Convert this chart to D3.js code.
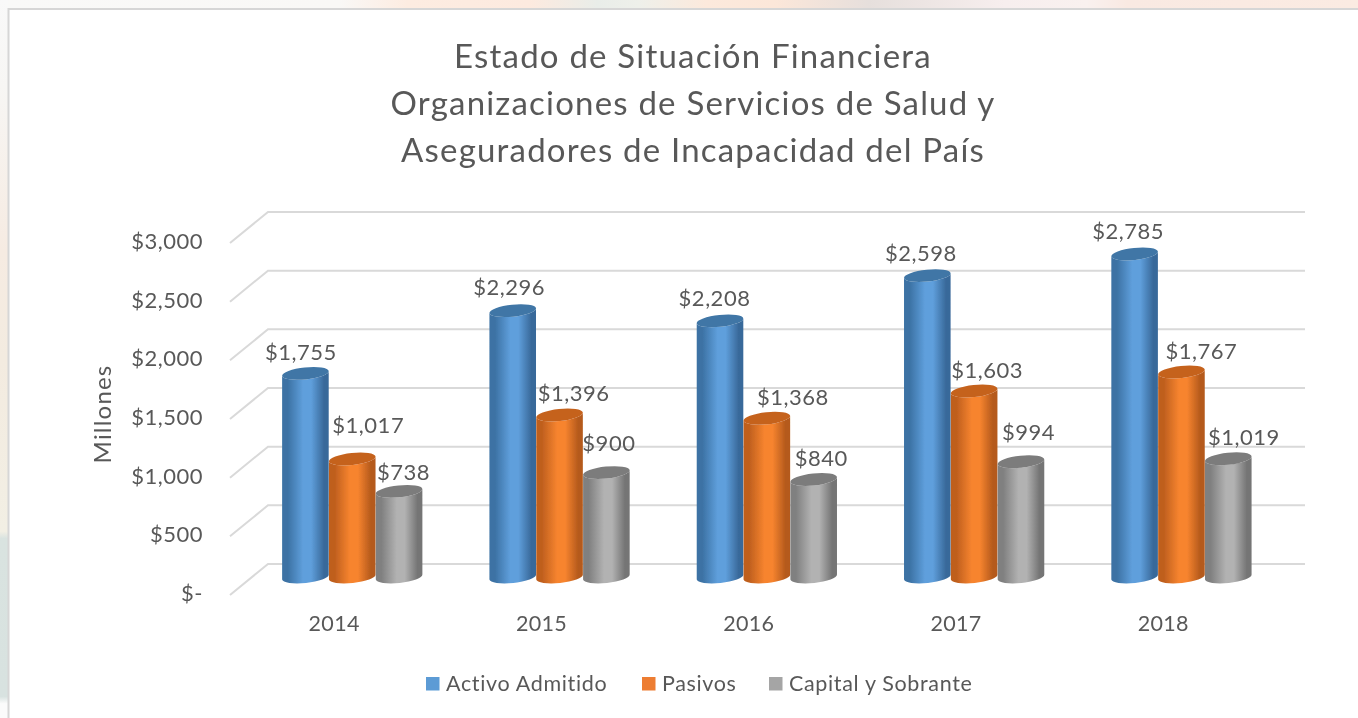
<!DOCTYPE html>
<html lang="es">
<head>
<meta charset="utf-8">
<title>Estado de Situación Financiera</title>
<script src="https://cdn.jsdelivr.net/npm/d3@7/dist/d3.min.js"></script>
<style>
html,body{margin:0;padding:0;background:#fff;overflow:hidden}
svg{display:block}
text{font-family:Lato,"Open Sans",sans-serif;fill:#595959}
</style>
</head>
<body>
<svg id="chart" width="1358" height="718"></svg>
<script>
const years = ["2014","2015","2016","2017","2018"];
const seriesNames = ["Activo Admitido","Pasivos","Capital y Sobrante"];
const activoAdmitido = [1755,2296,2208,2598,2785];
const pasivos = [1017,1396,1368,1603,1767];
const capitalSobrante = [738,900,840,994,1019];
const yTicks = [0,500,1000,1500,2000,2500,3000];
const titleLines = ["Estado de Situación Financiera","Organizaciones de Servicios de Salud y","Aseguradores de Incapacidad del País"];
const seriesValues = [activoAdmitido,pasivos,capitalSobrante];

// styling / hand placement of the labels, as in the source chart
const palette = [
  {edgeL:"#3c72a4",mid:"#5f9fdc",edgeR:"#39699a",top:"#3f76a6",swatch:"#5b9bd5"},
  {edgeL:"#bf5f1e",mid:"#f7842f",edgeR:"#b55a1c",top:"#c5621f",swatch:"#ed7d31"},
  {edgeL:"#808080",mid:"#b2b2b2",edgeR:"#747474",top:"#7c7c7c",swatch:"#a5a5a5"}
];
const labelNudge = [
  [[-4.5,-22],[-3.5,-24],[-5.5,-23],[-6.5,-23],[-6.5,-23]],
  [[16,-35],[14,-23],[26,-22],[13,-22],[20,-22]],
  [[4.5,-20],[2.5,-30],[7.5,-22],[7.5,-30],[15.5,-22]]
];

const svg = d3.select("#chart");
const defs = svg.append("defs");

// page background peeking around the panel
const topGrad = defs.append("linearGradient").attr("id","bgTop");
[[0,"#f9f9f8"],[.25,"#f9f8f6"],[.3,"#fdece1"],[.39,"#fdeadf"],[.44,"#e9ede9"],[.47,"#eef0ea"],[.52,"#fce9dc"],[.57,"#fce7d9"],[.64,"#e6dfdc"],[.74,"#f7eeee"],[.8,"#f9f1ef"],[.83,"#f9e9e2"],[1,"#fbebe2"]]
  .forEach(([o,c])=>topGrad.append("stop").attr("offset",o).attr("stop-color",c));
const leftGrad = defs.append("linearGradient").attr("id","bgLeft").attr("x1",0).attr("x2",0).attr("y1",0).attr("y2",1);
[[0,"#f9f9f9"],[.12,"#f7f6f4"],[.35,"#f6ebe2"],[.5,"#f3ebe0"],[.74,"#f2efe4"],[.75,"#d9e3e0"],[.97,"#d8e2e0"],[.98,"#fbfbfb"],[1,"#fbfbfb"]]
  .forEach(([o,c])=>leftGrad.append("stop").attr("offset",o).attr("stop-color",c));
svg.append("rect").attr("width",1358).attr("height",9).attr("fill","url(#bgTop)");
svg.append("rect").attr("y",0).attr("width",8).attr("height",718).attr("fill","url(#bgLeft)");
svg.append("path").attr("d","M8.5,718V9H1358").attr("fill","none").attr("stroke","#d6d6d6").attr("stroke-width",2);

const blur = defs.append("filter").attr("id","soft").attr("x","-5%").attr("y","-5%").attr("width","110%").attr("height","110%");
blur.append("feGaussianBlur").attr("stdDeviation",0.5);
const blurText = defs.append("filter").attr("id","softText").attr("x","-5%").attr("y","-5%").attr("width","110%").attr("height","110%");
blurText.append("feGaussianBlur").attr("stdDeviation",0.35);

// scales: back wall, front labels, bars
const yWall = d3.scaleLinear().domain([0,3000]).range([564,212]);
const yFront = d3.scaleLinear().domain([0,3000]).range([595,243]);
const yBar = d3.scaleLinear().domain([0,3000]).range([577,229]);
const xBand = d3.scaleBand().domain(years).range([230.5,1267]);
const xLeftPad = 51.5;
const xInner = d3.scaleBand().domain(d3.range(seriesNames.length)).range([0,140.5]);

// gridlines
const grid = svg.append("g").attr("filter","url(#soft)");
grid.selectAll("path").data(yTicks).join("path")
  .attr("d",d=>`M230,${yFront(d)}L268,${yWall(d)}H1305`)
  .attr("fill","none").attr("stroke","#d9d9d9").attr("stroke-width",2);

const textLayer = svg.append("g").attr("filter","url(#softText)");

// axes
const yAxis = d3.axisLeft(yFront).tickValues(yTicks).tickSize(0).tickPadding(0)
  .tickFormat(d=>d===0?"$-":"$"+d3.format(",")(d));
const yG = textLayer.append("g").attr("transform","translate(203,-1.5)").call(yAxis);
yG.select(".domain").remove();
yG.selectAll("text").style("font-size","22px").style("letter-spacing","0.5px").style("font-family",null);

const xAxis = d3.axisBottom(xBand).tickSize(0).tickPadding(0);
const xG = textLayer.append("g").attr("transform","translate(0,616)").call(xAxis);
xG.select(".domain").remove();
xG.selectAll("text").style("font-size","21.5px").style("letter-spacing","0.3px").style("font-family",null);

// cylinders
const tilt = 6*Math.PI/180, ry = 6;
function cyl(cx,rx,yTop,yBase){
  const dx = rx*Math.cos(tilt), dy = rx*Math.sin(tilt);
  return {
    body:`M${cx-dx},${yTop+dy}L${cx-dx},${yBase+dy}A${rx},${ry} -6 0 0 ${cx+dx},${yBase-dy}L${cx+dx},${yTop-dy}A${rx},${ry} -6 0 1 ${cx-dx},${yTop+dy}Z`,
    cap:`M${cx-dx},${yTop+dy}A${rx},${ry} -6 1 1 ${cx+dx},${yTop-dy}A${rx},${ry} -6 1 1 ${cx-dx},${yTop+dy}Z`
  };
}
palette.forEach((p,i)=>{
  const g = defs.append("linearGradient").attr("id","cyl"+i);
  [[0,p.edgeL],[.12,p.edgeL],[.45,p.mid],[.62,p.mid],[.9,p.edgeR],[1,p.edgeR]]
    .forEach(([o,c])=>g.append("stop").attr("offset",o).attr("stop-color",c));
});
const barsLayer = svg.append("g").attr("filter","url(#soft)");
const labelsLayer = svg.append("g").attr("filter","url(#softText)");
seriesValues.forEach((vals,si)=>{
  const w = xInner.bandwidth();
  vals.forEach((v,yi)=>{
    const cx = xBand(years[yi])+xLeftPad+xInner(si)+w/2;
    const c = cyl(cx,w/2,yBar(v),yBar(0));
    barsLayer.append("path").attr("d",c.body).attr("fill",`url(#cyl${si})`);
    barsLayer.append("path").attr("d",c.cap).attr("fill",palette[si].top);
    const [dx,dy] = labelNudge[si][yi];
    labelsLayer.append("text").attr("x",cx+dx).attr("y",yBar(v)+dy)
      .attr("text-anchor","middle").attr("dominant-baseline","central")
      .style("font-size","22px").style("letter-spacing","0.5px").text("$"+d3.format(",")(v));
  });
});

// title
const titleLayer = svg.append("g").attr("filter","url(#softText)");
titleLayer.selectAll("text").data(titleLines).join("text")
  .attr("x",693).attr("y",(d,i)=>55+i*47)
  .attr("text-anchor","middle").attr("dominant-baseline","central")
  .style("font-size","33px").style("letter-spacing","1.2px").text(d=>d);

// axis title
textLayer.append("text").attr("transform","translate(101,414) rotate(-90)")
  .attr("text-anchor","middle").attr("dominant-baseline","central")
  .style("font-size","24px").style("letter-spacing","1.2px").text("Millones");

// legend
const legendX = [426,642,769];
const legend = svg.append("g").attr("filter","url(#softText)").selectAll("g").data(seriesNames).join("g")
  .attr("transform",(d,i)=>`translate(${legendX[i]},677)`);
legend.append("rect").attr("width",13.5).attr("height",13.5).attr("fill",(d,i)=>palette[i].swatch);
legend.append("text").attr("x",20).attr("y",5.5).attr("dominant-baseline","central")
  .style("font-size","21.5px").style("letter-spacing","0.65px").text(d=>d);
</script>
</body>
</html>
